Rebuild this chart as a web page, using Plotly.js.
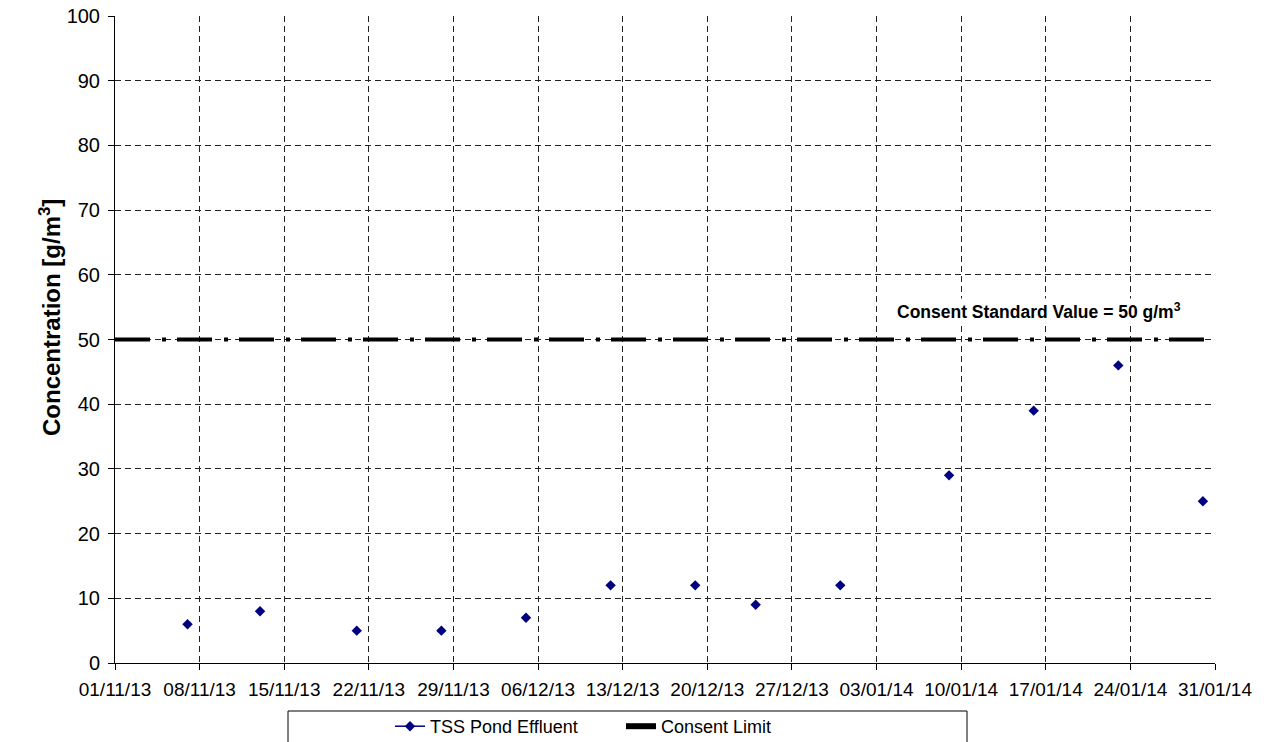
<!DOCTYPE html>
<html>
<head>
<meta charset="utf-8">
<script src="https://cdn.plot.ly/plotly-3.0.1.min.js"></script>
<style>html,body{margin:0;padding:0;background:#fff;}#chart{width:1264px;height:742px;}</style>
</head>
<body>
<div id="chart"></div>
<script>
const sampleDates = ['2013-11-07','2013-11-13','2013-11-21','2013-11-28','2013-12-05','2013-12-12','2013-12-19','2013-12-24','2013-12-31','2014-01-09','2014-01-16','2014-01-23','2014-01-30'];
const tssValues = [6, 8, 5, 5, 7, 12, 12, 9, 12, 29, 39, 46, 25];
const consentDates = ['2013-11-01','2014-01-31'];
const consentValues = [50, 50];
const seriesNames = ['TSS Pond Effluent', 'Consent Limit'];
const yTitle = '<b>Concentration [g/m<sup>3</sup>]</b>';
const consentLabel = '<b>Consent Standard Value = 50 g/m<sup>3</sup></b>';

const font = 'Liberation Sans, Arial, sans-serif';

const traces = [
  {
    x: consentDates, y: consentValues, type: 'scatter', mode: 'lines',
    name: seriesNames[1], showlegend: false, hoverinfo: 'skip',
    line: {color: '#000000', width: 4, dash: '35px,12px,4px,11px'}
  },
  {
    x: sampleDates, y: tssValues, type: 'scatter', mode: 'markers',
    name: seriesNames[0], showlegend: false,
    marker: {symbol: 'diamond', color: '#000080', size: 8}
  },
  {
    x: [null], y: [null], type: 'scatter', mode: 'lines+markers',
    name: seriesNames[0], legendrank: 1,
    line: {color: '#000080', width: 1.5},
    marker: {symbol: 'diamond', color: '#000080', size: 8}
  },
  {
    x: [null], y: [null], type: 'scatter', mode: 'lines',
    name: seriesNames[1], legendrank: 2,
    line: {color: '#000000', width: 6}
  }
];

const layout = {
  width: 1264, height: 742,
  margin: {l: 115, r: 49, t: 16, b: 79},
  paper_bgcolor: '#ffffff', plot_bgcolor: '#ffffff',
  font: {family: font, size: 14, color: '#000'},
  showlegend: true,
  legend: {
    orientation: 'h', xref: 'container', x: 390/1264, xanchor: 'left',
    yref: 'container', y: 34/742, yanchor: 'top',
    entrywidth: 186, entrywidthmode: 'pixels',
    bgcolor: 'rgba(0,0,0,0)', borderwidth: 0,
    font: {family: font, size: 18, color: '#000'},
    itemclick: false
  },
  xaxis: {
    type: 'date', automargin: false,
    range: ['2013-11-01', '2014-01-31'],
    tick0: '2013-11-01', dtick: 7 * 86400000,
    tickformat: '%d/%m/%y',
    ticks: 'outside', ticklen: 6, tickcolor: '#000', tickwidth: 1,
    showline: true, linecolor: '#000', linewidth: 1,
    showgrid: true, gridcolor: '#222', gridwidth: 1, griddash: '6px,4px',
    zeroline: false, ticklabelstandoff: 3,
    tickfont: {family: font, size: 19, color: '#000'}
  },
  yaxis: {
    range: [0, 100], dtick: 10, automargin: false,
    ticks: 'outside', ticklen: 6, tickcolor: '#000', tickwidth: 1,
    showline: true, linecolor: '#000', linewidth: 1,
    showgrid: true, gridcolor: '#222', gridwidth: 1, griddash: '6px,4px',
    zeroline: false, ticklabelstandoff: 4,
    tickfont: {family: font, size: 20, color: '#000'}
  },
  annotations: [
    {
      xref: 'x', yref: 'y', x: '2014-01-16 10:00', y: 54.4, yanchor: 'middle',
      text: consentLabel,
      showarrow: false, bgcolor: '#ffffff',
      font: {family: font, size: 17.5, color: '#000'}
    },
    {
      xref: 'paper', yref: 'paper', x: (50 - 115) / 1100, y: (663 - 318) / 647,
      xanchor: 'center', yanchor: 'middle', textangle: -90,
      text: yTitle, showarrow: false,
      font: {family: font, size: 24, color: '#000'}
    }
  ],
  shapes: [
    {type: 'rect', xref: 'paper', yref: 'paper', x0: (288-115)/1100, x1: (967-115)/1100,
     y0: -(742-663)/647 - 0.01, y1: -(711-663)/647, line: {color: '#000', width: 1}, fillcolor: 'rgba(0,0,0,0)'}
  ]
};

Plotly.newPlot('chart', traces, layout, {displayModeBar: false, staticPlot: true});
</script>
</body>
</html>
